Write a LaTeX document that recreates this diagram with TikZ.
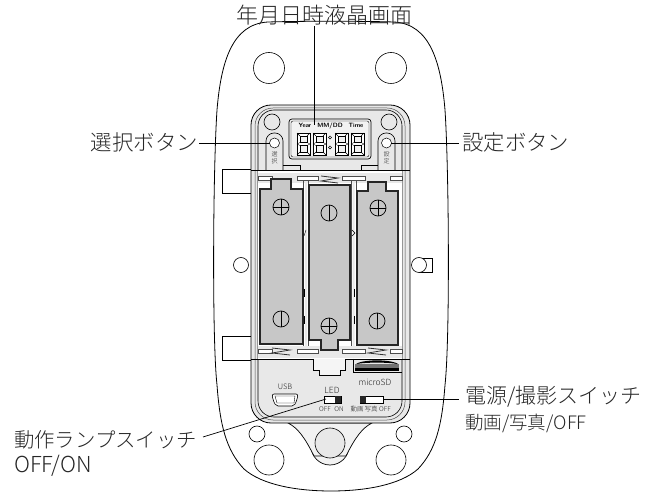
\documentclass[tikz,border=0pt]{standalone}
\usepackage{fontspec}
\newfontfamily\jp{Noto Sans CJK JP Light}
\usetikzlibrary{positioning,calc}
\definecolor{caseg}{gray}{0.91}
\definecolor{battg}{gray}{0.78}
\definecolor{inkg}{gray}{0.15}
\tikzset{x=1pt, y=-1pt}
\tikzstyle{lab}=[inner sep=0pt, text=inkg, node font={\jp\fontsize{21.4}{24}\selectfont}]
\tikzstyle{sublab}=[inner sep=0pt, text=inkg, node font={\jp\fontsize{18.5}{20}\selectfont}]
\tikzstyle{tiny}=[inner sep=0pt, text=inkg, node font={\jp\fontsize{7.5}{9}\selectfont}]
\tikzstyle{lcdtxt}=[inner sep=0pt, text=black, node font={\sffamily\bfseries\fontsize{6.2}{8}\selectfont}]
\tikzstyle{lead}=[draw=black, line width=0.7pt]
\tikzstyle{hole}=[draw=black, fill=white, line width=0.6pt]
\tikzstyle{batt}=[draw=black!85, fill=battg, line width=1.5pt, line join=miter]
\tikzstyle{pole}=[draw=black, line width=0.7pt]
\tikzstyle{strip}=[draw=black!70, fill=white, line width=0.5pt]
\tikzstyle{spring}=[draw=black!80, line width=0.8pt]
\tikzset{segdigit/.pic={
        \draw[black, line width=0.5pt, fill=white] (0,0) rectangle (13,22);
        \draw[black, line width=0.5pt, fill=black!5] (3,3) rectangle (10,9.5);
        \draw[black, line width=0.5pt, fill=black!5] (3,12.5) rectangle (10,19);
        \draw[black, line width=0.4pt] (0,0) -- (3,3) (13,0) -- (10,3) (0,22) -- (3,19) (13,22) -- (10,19) (0,11) -- (3,9.5) (0,11) -- (3,12.5) (13,11) -- (10,9.5) (13,11) -- (10,12.5);
}}
\begin{document}
\begin{tikzpicture}
        \useasboundingbox (0,0) rectangle (659,494);
        \draw[line width=0.8pt, fill=white] (268,22) .. controls (300,21) and (362,21) .. (394,22)
                .. controls (430,24) and (441,62) .. (445,110) .. controls (449,170) and (450,340) .. (445,385)
                .. controls (442,425) and (436,450) .. (418,469) .. controls (400,485) and (365,491) .. (331,491)
                .. controls (297,491) and (262,485) .. (244,469) .. controls (226,450) and (220,425) .. (217,385)
                .. controls (212,340) and (213,170) .. (217,110) .. controls (221,62) and (232,24) .. (268,22) -- cycle;
        \draw[hole] (222,169) rectangle (252,193);
        \draw[hole] (222,336) rectangle (252,360);
        \draw[hole] (419,258) rectangle (432,272);
        \node[hole, circle, minimum size=31pt, inner sep=0pt] (tl) at (269,68) {};
        \node[hole, circle, minimum size=31pt, inner sep=0pt] (tr) at (391,68) {};
        \node[hole, circle, minimum size=15pt, inner sep=0pt] (ml) at (241,265) {};
        \node[hole, circle, minimum size=15pt, inner sep=0pt] (mr) at (419,265) {};
        \node[hole, circle, minimum size=16pt, inner sep=0pt] (sl) at (257,434) {};
        \node[hole, circle, minimum size=16pt, inner sep=0pt] (sr) at (404,434) {};
        \node[hole, circle, minimum size=30pt, inner sep=0pt] (bl) at (269,460) {};
        \node[hole, circle, minimum size=30pt, inner sep=0pt] (br) at (391,460) {};
        \draw[line width=0.7pt, fill=black!5] (330,446) circle (19);
        \draw[line width=0.7pt, fill=black!5] (288,423) .. controls (298,428) and (305,438) .. (314,456) -- (346,456) .. controls (355,438) and (362,428) .. (372,423) -- cycle;
        \draw[line width=0.6pt, fill=caseg] (330,443) circle (15);
        \draw[line width=0.8pt, fill=caseg, rounded corners=20pt] (251,105) rectangle (410,423);
        \draw[line width=0.6pt, rounded corners=16pt] (258,110) rectangle (402,417);
        \draw[line width=0.5pt, black!70, rounded corners=18pt] (255,108) rectangle (405,420);
        \node[hole, circle, minimum size=16pt, inner sep=0pt, fill=caseg] (kl) at (272,122) {};
        \node[hole, circle, minimum size=16pt, inner sep=0pt, fill=caseg] (kr) at (389,122) {};
        \draw[line width=0.6pt, fill=caseg, rounded corners=8pt] (266,172) -- (266,133) -- (283,133) -- (283,172);
        \draw[line width=0.6pt, fill=caseg, rounded corners=8pt] (378,172) -- (378,133) -- (395,133) -- (395,172);
        \draw[line width=0.5pt, fill=white] (274.5,143) circle (5);
        \draw[line width=0.5pt, fill=white] (386.5,143) circle (5);
        \node[tiny, align=center, font=\jp\fontsize{6}{6.5}\selectfont] (sel) at (274.5,158) {選\\択};
        \node[tiny, align=center, font=\jp\fontsize{6}{6.5}\selectfont] (set) at (386.5,158) {設\\定};
        \draw[line width=0.7pt, fill=black!5, rounded corners=3pt] (289,119) rectangle (371,159);
        \draw[line width=0.4pt, rounded corners=2pt] (291,121) rectangle (369,157);
        \node[lcdtxt] (year) at (305,125.5) {Year};
        \node[lcdtxt] (mmdd) at (330,125.5) {MM/DD};
        \node[lcdtxt] (time) at (356,125.5) {Time};
        \foreach \dx in {297,313,335,351}
                \pic at (\dx,133) {segdigit};
        \draw[line width=0.5pt] (330,137.5) circle (1.6) (330,147.5) circle (1.6);
        \draw[line width=0.6pt] (283,165) -- (300,165) -- (300,170) (378,165) -- (361,165) -- (361,170);
        \fill[white] (258,170) rectangle (402,359);
        \draw[line width=0.9pt] (251,170) -- (410,170);
        \draw[line width=0.9pt] (251,359) -- (410,359);
        \draw[line width=0.6pt] (258,173) -- (402,173);
        \fill[caseg] (258,173.3) rectangle (402,183);
        \fill[caseg] (258,346) rectangle (402,358.5);
        \fill[caseg] (305,180) rectangle (307,346) (352.5,180) rectangle (354.5,346);
        \draw[line width=0.5pt, black!70] (303.5,180) -- (303.5,346) (308,180) -- (308,346) (351,180) -- (351,346) (356,180) -- (356,346);
        \foreach \xa/\xb in {258/272,297/318,342/365,390/402} {
                \draw[strip] (\xa,176) rectangle (\xb,180);
                \draw[strip] (\xa,349) rectangle (\xb,353);
        }
        \draw[spring] (321,176) -- (338,178) -- (321,181) -- (338,183);
        \draw[spring] (272,348) -- (290,350) -- (272,353) -- (290,355);
        \draw[spring] (368,348) -- (386,350) -- (368,353) -- (386,355);
        \draw[line width=0.9pt] (304,289) -- (304,297) (304,316) -- (304,324) (354,289) -- (354,297) (354,316) -- (354,324);
        \draw[line width=0.4pt] (304,236) -- (306,230) (352,230) -- (355,233) -- (352,236);
        \draw[batt] (260,189) -- (271,189) -- (271,179) -- (291,179) -- (291,189) -- (303,189) -- (303,344) -- (260,344) -- cycle;
        \draw[batt] (309,185) -- (350,185) -- (350,340) -- (338,340) -- (338,350) -- (321,350) -- (321,340) -- (309,340) -- cycle;
        \draw[batt] (357,191) -- (368,191) -- (368,182) -- (386,182) -- (386,191) -- (398,191) -- (398,345) -- (357,345) -- cycle;
        \node[pole, circle, minimum size=16pt, inner sep=0pt] (p1) at (281,207) {};
        \draw[pole] (p1.west) -- (p1.east) (p1.north) -- (p1.south);
        \node[pole, circle, minimum size=16pt, inner sep=0pt] (m1) at (281,319) {};
        \draw[pole] (m1.north) -- (m1.south);
        \node[pole, circle, minimum size=16pt, inner sep=0pt] (m2) at (329,213) {};
        \draw[pole] (m2.north) -- (m2.south);
        \node[pole, circle, minimum size=16pt, inner sep=0pt] (p2) at (329,326) {};
        \draw[pole] (p2.west) -- (p2.east) (p2.north) -- (p2.south);
        \node[pole, circle, minimum size=16pt, inner sep=0pt] (p3) at (378,208) {};
        \draw[pole] (p3.west) -- (p3.east) (p3.north) -- (p3.south);
        \node[pole, circle, minimum size=16pt, inner sep=0pt] (m3) at (377,321) {};
        \draw[pole] (m3.north) -- (m3.south);
        \draw[line width=0.6pt, fill=black!4] (313,359) -- (313,370) -- (319,370) -- (319,375) -- (340,375) -- (340,370) -- (345,370) -- (345,359);
        \draw[line width=0.6pt] (353,359) -- (353,372) -- (402,372);
        \fill[black] (355,364.5) .. controls (362,359) and (392,359) .. (399,364.5) .. controls (392,362) and (362,362) .. (355,364.5) -- cycle;
        \fill[black!55] (355,364) rectangle (399,369);
        \fill[black] (355,368.5) rectangle (399,371);
        \node[tiny] (usb) at (285,387) {USB};
        \node[tiny, font=\jp\fontsize{8.5}{10}\selectfont] (msd) at (375,382) {microSD};
        \draw[line width=0.6pt, fill=white, rounded corners=2pt] (272,394) -- (298,394) -- (297,400) -- (294,406) -- (276,406) -- (273,400) -- cycle;
        \draw[line width=0.4pt] (275,396) -- (295,396) -- (294,403) -- (277,403) -- cycle;
        \node[tiny, font=\jp\fontsize{8.5}{10}\selectfont] (led) at (332,390) {LED};
        \node[tiny, font=\jp\fontsize{6.5}{8}\selectfont] (off) at (325,409) {OFF};
        \node[tiny, font=\jp\fontsize{6.5}{8}\selectfont] (on) at (339,409) {ON};
        \node[tiny, font=\jp\fontsize{6.5}{8}\selectfont] (mov) at (357,409) {動画};
        \node[tiny, font=\jp\fontsize{6.5}{8}\selectfont] (pho) at (371,409) {写真};
        \node[tiny, font=\jp\fontsize{6.5}{8}\selectfont] (pwr) at (385,409) {OFF};
        \node[draw, line width=0.5pt, fill=white, minimum width=17pt, minimum height=7pt, inner sep=0pt] (ledsw) at (332.5,399.5) {};
        \fill[black!85] (335,396) rectangle (341,403);
        \node[draw, line width=0.5pt, fill=white, minimum width=23pt, minimum height=7pt, inner sep=0pt] (pwrsw) at (371.5,399.5) {};
        \fill[black!85] (360,396) rectangle (366,403);
        \node[lab, font=\jp\fontsize{22}{24}\selectfont] (title) at (324,15.5) {年月日時液晶画面};
        \node[lab, anchor=east] (sellab) at (198,142.5) {選択ボタン};
        \node[lab, anchor=west] (setlab) at (462,142.5) {設定ボタン};
        \node[lab, anchor=west, font=\jp\fontsize{21}{24}\selectfont] (pwrlab) at (465,397) {電源/撮影スイッチ};
        \node[sublab] (pwrsub) [below right= 6pt and 0pt of pwrlab.south west] {動画/写真/OFF};
        \node[lab, anchor=west, font=\jp\fontsize{20.4}{24}\selectfont] (ledlab) at (14,440) {動作ランプスイッチ};
        \node[lab, font=\jp\fontsize{22}{24}\selectfont] (ledsub) [below right= 6pt and 0pt of ledlab.south west] {OFF/ON};
        \coordinate (lcdpt) at (314,125);
        \coordinate (selpt) at (270,143);
        \coordinate (setpt) at (391,143);
        \coordinate (ledpt) at (326,399);
        \coordinate (pwrpt) at (383,399);
        \draw[lead] (314,26) -- (lcdpt);
        \draw[lead] (199,143) -- (selpt);
        \draw[lead] (setpt) -- (459,143);
        \draw[lead] (203,437) -- (ledpt);
        \draw[lead] (pwrpt) -- (459,399);
\end{tikzpicture}
\end{document}
